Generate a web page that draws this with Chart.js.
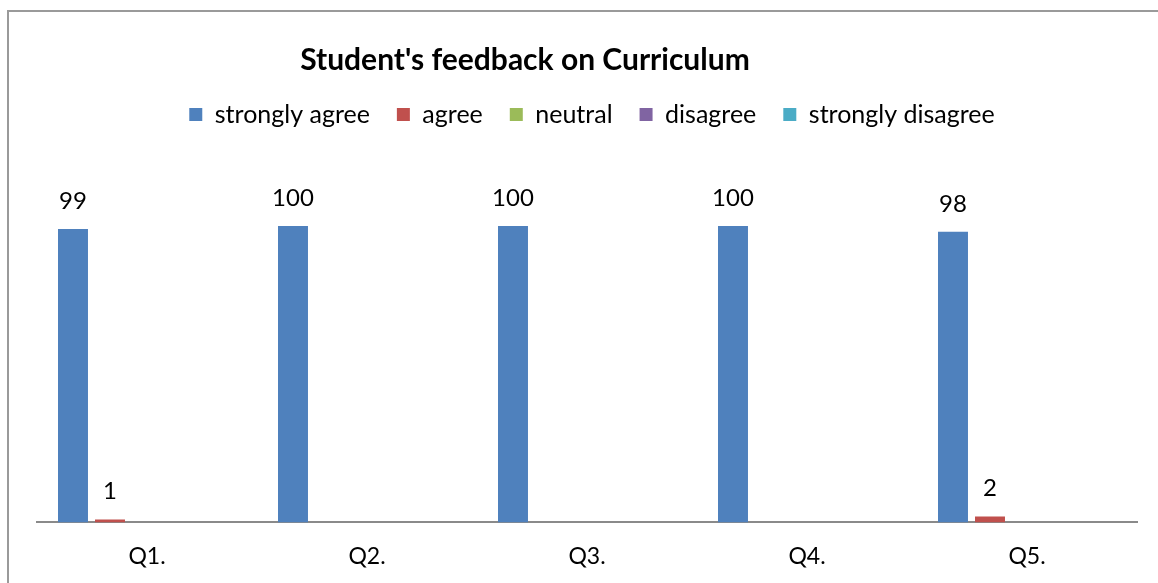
<!DOCTYPE html>
<html lang="en">
<head>
<meta charset="UTF-8" />
<title>Student's feedback on Curriculum</title>
<script src="https://cdn.jsdelivr.net/npm/chart.js"></script>
<style>
  body { margin: 0; background: #fff; }
  #wrap { position: relative; width: 1158px; height: 583px; }
  #frame {
    position: absolute; left: 7px; top: 10px; right: 0; bottom: 0;
    border-left: 2px solid #9a9a9a; border-top: 2px solid #9a9a9a;
    pointer-events: none;
  }
</style>
</head>
<body>
<div id="wrap">
  <canvas id="feedbackChart" width="1158" height="583"></canvas>
  <div id="frame"></div>
</div>
<script>
  const categories = ["Q1.", "Q2.", "Q3.", "Q4.", "Q5."];
  const stronglyAgree = [99, 100, 100, 100, 98];
  const agree = [1, 0, 0, 0, 2];
  const neutral = [0, 0, 0, 0, 0];
  const disagree = [0, 0, 0, 0, 0];
  const stronglyDisagree = [0, 0, 0, 0, 0];
  const chartTitle = "Student's feedback on Curriculum";

  const FONT = "Lato, 'Open Sans', sans-serif";

  // value above each non-zero bar
  const valueLabels = {
    id: "valueLabels",
    afterDatasetsDraw(chart) {
      const ctx = chart.ctx;
      ctx.save();
      ctx.font = "24px " + FONT;
      ctx.fillStyle = "#000";
      ctx.textAlign = "center";
      ctx.textBaseline = "alphabetic";
      chart.data.datasets.forEach((ds, i) => {
        chart.getDatasetMeta(i).data.forEach((bar, j) => {
          const v = ds.data[j];
          if (!v) return;
          ctx.fillText(String(v), bar.x, bar.y - 20);
        });
      });
      ctx.restore();
    }
  };

  // title sits left of centre in the original, legend a bit right
  const offsetTitle = {
    id: "offsetTitle",
    afterLayout(chart) {
      chart.legend.left += 5;
      chart.legend.right += 5;
    },
    afterDraw(chart) {
      const ctx = chart.ctx;
      ctx.save();
      ctx.font = "bold 30px " + FONT;
      ctx.fillStyle = "#000";
      ctx.textAlign = "center";
      ctx.textBaseline = "middle";
      ctx.fillText(chartTitle, chart.chartArea.left + 488, 60);
      ctx.restore();
    }
  };

  const ctx = document.getElementById("feedbackChart").getContext("2d");
  new Chart(ctx, {
    type: "bar",
    data: {
      labels: categories,
      datasets: [
        { label: "strongly agree", data: stronglyAgree, backgroundColor: "#4F81BD" },
        { label: "agree", data: agree, backgroundColor: "#C0504D" },
        { label: "neutral", data: neutral, backgroundColor: "#9BBB59" },
        { label: "disagree", data: disagree, backgroundColor: "#8064A2" },
        { label: "strongly disagree", data: stronglyDisagree, backgroundColor: "#4BACC6" }
      ]
    },
    options: {
      responsive: false,
      animation: false,
      categoryPercentage: 0.841,
      barPercentage: 0.81,
      layout: { padding: { left: 37, right: 21, top: 75, bottom: -7 } },
      plugins: {
        title: { display: false },
        tooltip: { enabled: false },
        legend: {
          position: "top",
          labels: {
            boxWidth: 13,
            boxHeight: 13,
            padding: 27,
            color: "#000",
            font: { family: FONT, size: 25 }
          }
        }
      },
      scales: {
        x: {
          grid: { display: false, drawTicks: false },
          border: { display: true, color: "#8a8a8a", width: 2 },
          ticks: { color: "#000", padding: 20, font: { family: FONT, size: 23 } }
        },
        y: {
          display: false,
          min: 0,
          max: 130
        }
      }
    },
    plugins: [valueLabels, offsetTitle]
  });
</script>
</body>
</html>
